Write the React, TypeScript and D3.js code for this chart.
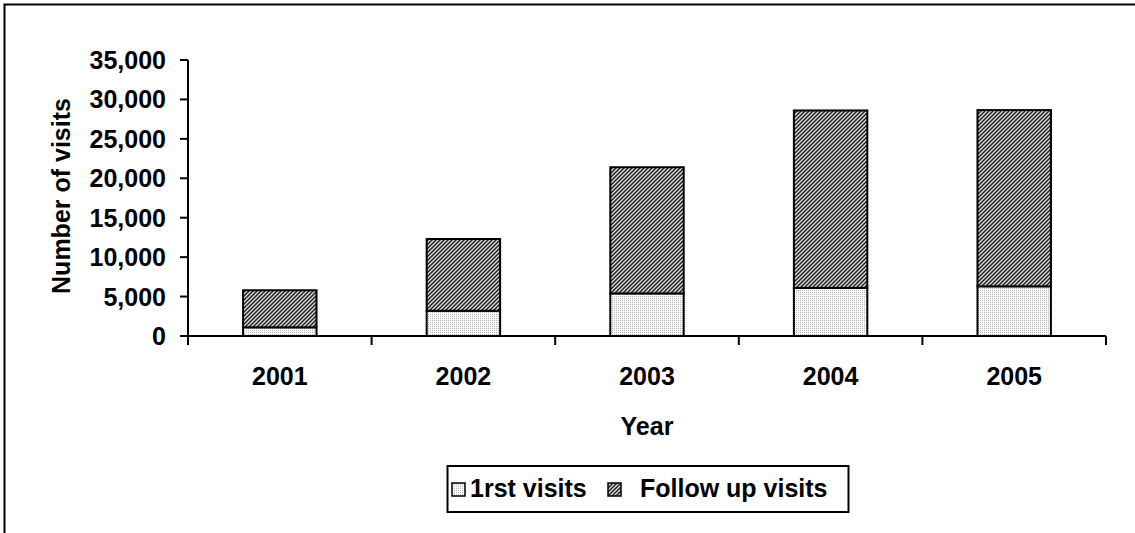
import React from "react";
import * as d3 from "d3";

const years = ["2001", "2002", "2003", "2004", "2005"];
const firstVisits = [1100, 3200, 5400, 6100, 6300];
const followUpVisits = [4700, 9100, 16000, 22500, 22350];
const yTicks = [0, 5000, 10000, 15000, 20000, 25000, 30000, 35000];
const seriesNames = ["1rst visits", "Follow up visits"];

const W = 1135;
const H = 533;
const FONT = "'Liberation Sans', Arial, sans-serif";
const FS = 25;

export default function App() {
  const left = 188, right = 1106, top = 60, bottom = 336;
  const x = d3.scaleBand<string>().domain(years).range([left, right]).paddingInner(0.6).paddingOuter(0.3);
  const xb = d3.scaleBand<string>().domain(years).range([left, right]).padding(0);
  const y = d3.scaleLinear().domain([0, 35000]).range([bottom, top]);
  const fmt = d3.format(",");

  const rows = years.map((yr, i) => ({ yr, a: firstVisits[i], b: followUpVisits[i] }));
  const stack = d3.stack<any>().keys(["a", "b"])(rows);
  const fills = ["url(#dots)", "url(#hatch)"];

  const boundaries = [...years.map((yr) => xb(yr) as number), right];

  return (
    <svg width={W} height={H} style={{ position: "absolute", left: 0, top: 0, background: "#fff" }} fontFamily={FONT}>
      <defs>
        <pattern id="dots" width="2" height="2" patternUnits="userSpaceOnUse">
          <rect width="2" height="2" fill="#fbfbfb" />
          <rect width="1" height="1" fill="#b8b8b8" />
        </pattern>
        <pattern id="hatch" width="4" height="4" patternUnits="userSpaceOnUse">
          <rect width="4" height="4" fill="#dcdcdc" />
          <path d="M-1,1 L1,-1 M0,4 L4,0 M3,5 L5,3" stroke="#222" strokeWidth="1.5" />
        </pattern>
      </defs>
      {/* outer frame */}
      <path d={`M4.5,${H} V4.5 H${W}`} fill="none" stroke="#000" strokeWidth={2} />

      {/* bars */}
      {stack.map((s, si) =>
        s.map((d: any, i: number) => (
          <rect
            key={`${si}-${i}`}
            x={x(years[i])}
            width={x.bandwidth()}
            y={y(d[1])}
            height={y(d[0]) - y(d[1])}
            fill={fills[si]}
            stroke="#000"
            strokeWidth={2}
          />
        ))
      )}

      {/* y axis */}
      <line x1={left} x2={left} y1={top} y2={bottom} stroke="#000" strokeWidth={2} />
      {yTicks.map((t) => (
        <g key={t}>
          <line x1={left - 8} x2={left} y1={y(t)} y2={y(t)} stroke="#000" strokeWidth={2} />
          <text x={166} y={y(t)} dy="0.36em" textAnchor="end" fontSize={FS} fontWeight="bold">
            {fmt(t)}
          </text>
        </g>
      ))}

      {/* x axis */}
      <line x1={left - 8} x2={right} y1={bottom} y2={bottom} stroke="#000" strokeWidth={2} />
      {boundaries.map((b, i) => (
        <line key={i} x1={b} x2={b} y1={bottom} y2={bottom + 9} stroke="#000" strokeWidth={2} />
      ))}
      {years.map((yr) => (
        <text key={yr} x={(x(yr) as number) + x.bandwidth() / 2} y={385} textAnchor="middle" fontSize={FS} fontWeight="bold">
          {yr}
        </text>
      ))}

      {/* axis titles */}
      <text x={(left + right) / 2} y={435} textAnchor="middle" fontSize={FS} fontWeight="bold">
        Year
      </text>
      <text transform={`translate(70,196) rotate(-90)`} textAnchor="middle" fontSize={FS} fontWeight="bold">
        Number of visits
      </text>

      {/* legend */}
      <rect x={447.5} y={466} width={401} height={46} fill="#fff" stroke="#000" strokeWidth={2} />
      <rect x={452} y={483} width={13} height={13} fill={fills[0]} stroke="#000" strokeWidth={1.5} />
      <text x={470} y={497} fontSize={FS} fontWeight="bold">{seriesNames[0]}</text>
      <rect x={608} y={483} width={13} height={13} fill={fills[1]} stroke="#000" strokeWidth={1.5} />
      <text x={640} y={497} fontSize={FS} fontWeight="bold">{seriesNames[1]}</text>
    </svg>
  );
}
